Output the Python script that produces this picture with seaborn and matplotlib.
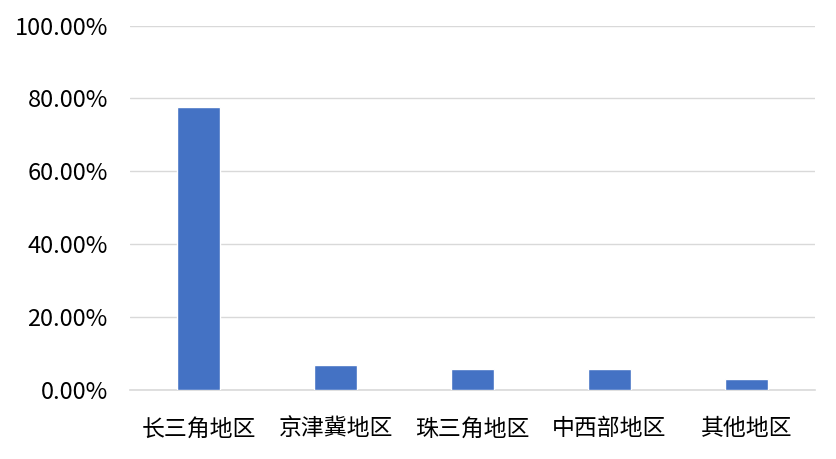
import matplotlib
matplotlib.use("Agg")
import matplotlib.pyplot as plt
import pandas as pd
import seaborn as sns
from matplotlib.ticker import FuncFormatter

# Datos
regions = ["长三角地区", "京津冀地区", "珠三角地区", "中西部地区", "其他地区"]
shares = [77.7, 6.7, 5.6, 5.6, 2.9]
yticks = [0, 20, 40, 60, 80, 100]

df = pd.DataFrame({"region": regions, "share": shares})

sns.set_style("white")
plt.rcParams["font.family"] = ["Noto Sans CJK SC", "DejaVu Sans"]

fig = plt.figure(figsize=(8.37, 4.59), dpi=100)
ax = fig.add_axes([0.1553, 0.1514, 0.8184, 0.7930])

sns.barplot(data=df, x="region", y="share", color="#4472C4", width=0.31,
            saturation=1, ax=ax, zorder=3)

ax.set_ylim(0, 100)
ax.set_xlim(-0.5, len(regions) - 0.5)
ax.set_yticks(yticks)
ax.yaxis.set_major_formatter(FuncFormatter(lambda v, _: f"{v:.2f}%"))
ax.grid(axis="y", color="#d9d9d9", linewidth=1.0, zorder=0)
ax.set_xlabel("")
ax.set_ylabel("")
for side in ["top", "right", "left"]:
    ax.spines[side].set_visible(False)
ax.spines["bottom"].set_color("#d9d9d9")
ax.spines["bottom"].set_linewidth(1.2)
ax.tick_params(axis="y", length=0, labelsize=17, colors="#000000", pad=16)
ax.tick_params(axis="x", length=0, labelsize=16.5, colors="#000000", pad=20)

fig.savefig("out.png", dpi=100)
